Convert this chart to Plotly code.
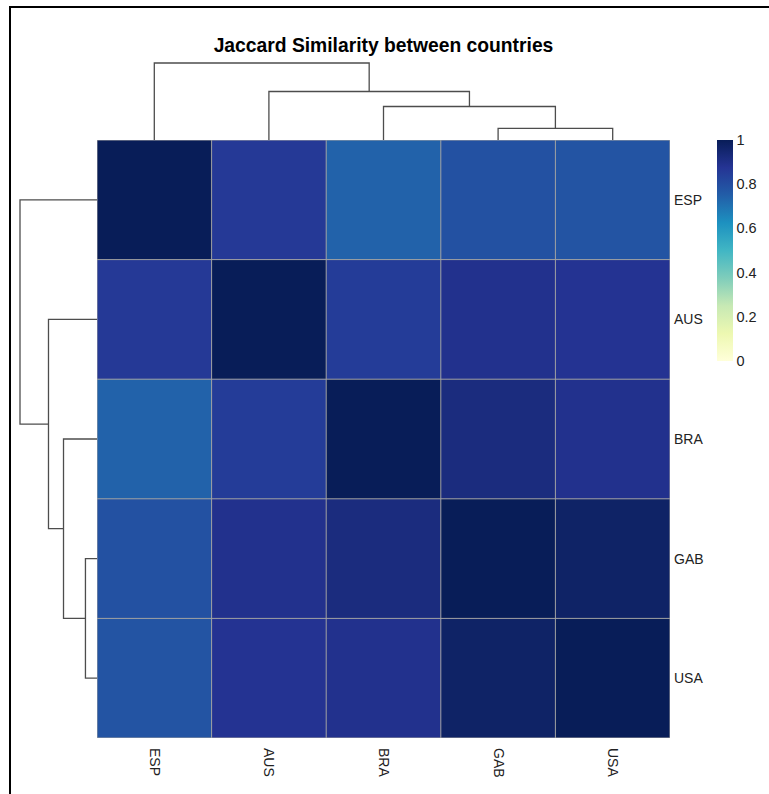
import plotly.graph_objects as go

# ---------------- data ----------------
labels = ["ESP", "AUS", "BRA", "GAB", "USA"]
sim_ESP = [1.00, 0.86, 0.74, 0.79, 0.78]
sim_AUS = [0.86, 1.00, 0.85, 0.89, 0.88]
sim_BRA = [0.74, 0.85, 1.00, 0.92, 0.89]
sim_GAB = [0.79, 0.89, 0.92, 1.00, 0.97]
sim_USA = [0.78, 0.88, 0.89, 0.97, 1.00]
z = [sim_ESP, sim_AUS, sim_BRA, sim_GAB, sim_USA]

# hierarchical clustering merges (leaf indices 0..4, new clusters 5..)
merge_a = [3, 2, 1, 0]
merge_b = [4, 5, 6, 7]
merge_height = [0.15, 0.435, 0.63, 1.00]

colorbar_ticks = [0, 0.2, 0.4, 0.6, 0.8, 1]

# ---------------- style ----------------
W, H = 769, 794
ylgnbu = ["#ffffd9", "#edf8b1", "#c7e9b4", "#7fcdbb", "#41b6c4",
          "#1d91c0", "#225ea8", "#253494", "#081d58"]
cscale = [[i / (len(ylgnbu) - 1), c] for i, c in enumerate(ylgnbu)]
FONT = "Liberation Sans, Arial, sans-serif"

hm_l, hm_r, hm_t, hm_b = 97, 670, 140, 738
px = lambda v: v / W
py = lambda v: 1 - v / H

fig = go.Figure()
fig.add_trace(go.Heatmap(
    z=z, x=labels, y=labels, colorscale=cscale, zmin=0, zmax=1,
    xaxis="x", yaxis="y", showscale=True,
    colorbar=dict(
        x=px(717), xanchor="left", y=py(140), yanchor="top",
        lenmode="pixels", len=221, thickness=16, xpad=0, ypad=0,
        outlinewidth=0, ticks="", tickvals=colorbar_ticks,
        ticktext=[f"{v:g}" for v in colorbar_ticks],
        tickfont=dict(family=FONT, size=14.5, color="#222222"),
        ticklabelposition="outside",
    ),
))

# dendrogram segments
pos = {i: float(i) for i in range(len(labels))}
hgt = {i: 0.0 for i in range(len(labels))}
seg_p, seg_h = [], []
for k, (a, b, hh) in enumerate(zip(merge_a, merge_b, merge_height)):
    nid = len(labels) + k
    pos[nid] = (pos[a] + pos[b]) / 2
    hgt[nid] = hh
    seg_p += [pos[a], pos[a], pos[b], pos[b], None]
    seg_h += [hgt[a], hh, hh, hgt[b], None]

line_style = dict(color="#4d4d4d", width=1.3)
fig.add_trace(go.Scatter(x=seg_p, y=seg_h, mode="lines", line=line_style,
                         xaxis="x2", yaxis="y2", hoverinfo="skip", showlegend=False))
fig.add_trace(go.Scatter(x=seg_h, y=seg_p, mode="lines", line=line_style,
                         xaxis="x3", yaxis="y3", hoverinfo="skip", showlegend=False))

# cell borders
n = len(labels)
shapes = []
for i in range(n + 1):
    shapes.append(dict(type="line", xref="x", yref="y", x0=i - 0.5, x1=i - 0.5,
                       y0=-0.5, y1=n - 0.5, line=dict(color="#a3a3a3", width=1)))
    shapes.append(dict(type="line", xref="x", yref="y", y0=i - 0.5, y1=i - 0.5,
                       x0=-0.5, x1=n - 0.5, line=dict(color="#a3a3a3", width=1)))
# image frame
shapes.append(dict(type="line", xref="paper", yref="paper", x0=px(10), x1=px(10),
                   y0=0, y1=py(6), line=dict(color="black", width=2)))
shapes.append(dict(type="line", xref="paper", yref="paper", x0=px(9), x1=1,
                   y0=py(7), y1=py(7), line=dict(color="black", width=2)))

pad = 2 / 77
fig.update_layout(
    width=W, height=H, margin=dict(l=0, r=0, t=0, b=0),
    paper_bgcolor="white", plot_bgcolor="white",
    showlegend=False, shapes=shapes,
    title=dict(text="<b>Jaccard Similarity between countries</b>",
               x=px((hm_l + hm_r) / 2), xanchor="center", y=py(45), yanchor="middle",
               font=dict(family=FONT, size=19.3, color="black")),
    xaxis=dict(domain=[px(hm_l), px(hm_r)], range=[-0.5, n - 0.5], anchor="y",
               tickangle=90, ticks="", showgrid=False, zeroline=False, showline=False,
               tickfont=dict(family=FONT, size=14, color="#222222"),
               ticklabelstandoff=9),
    yaxis=dict(domain=[py(hm_b), py(hm_t)], range=[n - 0.5, -0.5], anchor="x",
               side="right", ticks="", showgrid=False, zeroline=False, showline=False,
               tickfont=dict(family=FONT, size=14, color="#222222"),
               ticklabelstandoff=3),
    xaxis2=dict(domain=[px(hm_l), px(hm_r)], range=[-0.5, n - 0.5], anchor="y2",
                visible=False),
    yaxis2=dict(domain=[py(hm_t), py(63 - 2)], range=[0, 1 + pad], anchor="x2",
                visible=False),
    xaxis3=dict(domain=[px(20 - 2), px(hm_l)], range=[1 + pad, 0], anchor="y3",
                visible=False),
    yaxis3=dict(domain=[py(hm_b), py(hm_t)], range=[n - 0.5, -0.5], anchor="x3",
                visible=False),
)

fig.write_html("out.html", config={"displayModeBar": False},
               post_script="document.body.style.margin='0px';document.body.style.overflow='hidden';")
